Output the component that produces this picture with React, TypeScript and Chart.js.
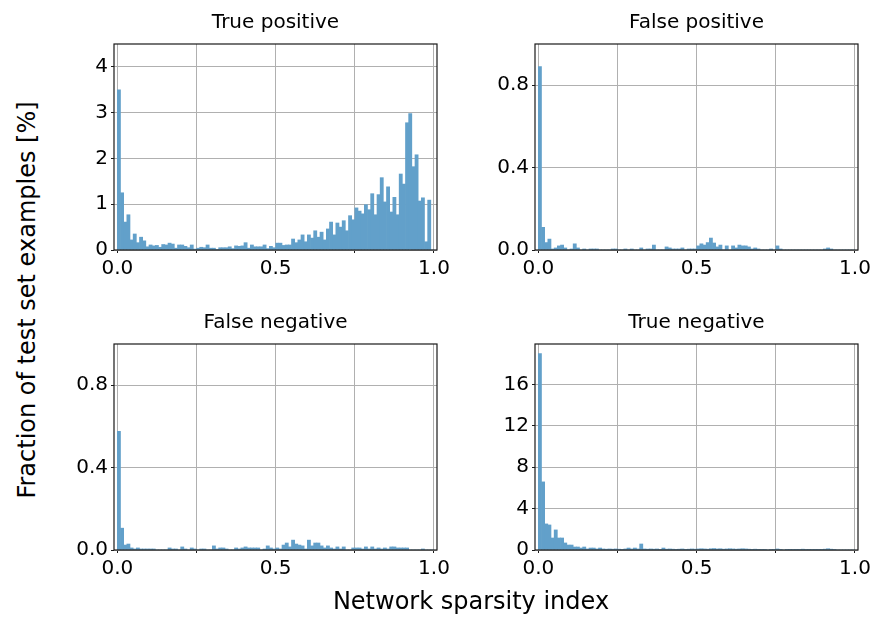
import React, { useEffect, useRef } from 'react';
import { Chart, registerables } from 'chart.js';

Chart.register(...registerables);

// ---- data (histogram, 100 bins of width 0.01 on [0, 1]) ----
const BIN_WIDTH = 0.01;
const X_TICK_LABELS = ['0.0', '0.5', '1.0'];
const PANEL_TITLES = ['True positive', 'False positive', 'False negative', 'True negative'];
const X_AXIS_LABEL = 'Network sparsity index';
const Y_AXIS_LABEL = 'Fraction of test set examples [%]';

const truePositive = [
  3.5, 1.25, 0.61, 0.77, 0.22, 0.35, 0.16, 0.28, 0.2, 0.07,
  0.11, 0.09, 0.1, 0.06, 0.12, 0.11, 0.15, 0.13, 0.04, 0.11,
  0.11, 0.08, 0.05, 0.11, 0.02, 0.04, 0.06, 0.05, 0.11, 0.04,
  0.04, 0.01, 0.05, 0.05, 0.05, 0.07, 0.03, 0.09, 0.08, 0.09,
  0.16, 0.04, 0.11, 0.07, 0.07, 0.07, 0.11, 0.03, 0.08, 0.05,
  0.15, 0.15, 0.1, 0.11, 0.11, 0.24, 0.16, 0.22, 0.33, 0.18,
  0.33, 0.26, 0.42, 0.28, 0.39, 0.22, 0.46, 0.61, 0.33, 0.59,
  0.5, 0.64, 0.42, 0.75, 0.66, 0.92, 0.85, 0.79, 0.99, 0.88,
  1.23, 0.77, 1.21, 1.58, 1.05, 1.38, 0.83, 1.15, 0.77, 1.66,
  1.44, 2.78, 2.98, 1.82, 2.08, 1.07, 1.14, 0.18, 1.09, 0,
];

const falsePositive = [
  0.89, 0.11, 0.036, 0.053, 0.005, 0.01, 0.02, 0.024, 0.01, 0,
  0.005, 0.03, 0.01, 0, 0.005, 0, 0.005, 0.005, 0.005, 0,
  0, 0, 0, 0.005, 0.005, 0, 0, 0.005, 0, 0.005,
  0, 0, 0.01, 0, 0.005, 0.005, 0.024, 0, 0, 0,
  0.015, 0.01, 0.005, 0.005, 0.005, 0.01, 0, 0.005, 0.005, 0.005,
  0.02, 0.03, 0.024, 0.036, 0.058, 0.034, 0.015, 0.024, 0, 0.02,
  0, 0.02, 0.01, 0.024, 0.02, 0.02, 0.015, 0.005, 0.01, 0.005,
  0, 0, 0, 0.005, 0, 0.02, 0.005, 0, 0, 0,
  0, 0, 0, 0, 0, 0, 0, 0, 0, 0,
  0.005, 0.01, 0.005, 0, 0, 0, 0, 0, 0, 0,
];

const falseNegative = [
  0.576, 0.106, 0.024, 0.029, 0.01, 0.005, 0.01, 0.005, 0.005, 0.005,
  0.005, 0.005, 0, 0, 0, 0, 0.01, 0.005, 0.005, 0,
  0.015, 0.005, 0, 0.01, 0.005, 0, 0.005, 0.005, 0, 0,
  0.02, 0.005, 0.01, 0.01, 0.005, 0, 0, 0.01, 0.005, 0.01,
  0.015, 0.01, 0.01, 0.01, 0.01, 0, 0.005, 0.02, 0.01, 0.005,
  0.01, 0.005, 0.024, 0.034, 0.015, 0.048, 0.029, 0.024, 0.02, 0.005,
  0.048, 0.02, 0.034, 0.034, 0.02, 0.01, 0.02, 0.01, 0.005, 0.015,
  0.005, 0.015, 0, 0, 0.01, 0.01, 0.01, 0.005, 0.015, 0.005,
  0.015, 0.005, 0.01, 0.005, 0.01, 0.005, 0.015, 0.015, 0.01, 0.01,
  0.01, 0.01, 0, 0, 0, 0, 0.005, 0, 0, 0,
];

const trueNegative = [
  18.97, 6.58, 2.52, 2.42, 1.16, 1.94, 1.16, 1.16, 0.68, 0.48,
  0.48, 0.29, 0.29, 0.19, 0.29, 0.1, 0.19, 0.19, 0.1, 0.19,
  0.1, 0.08, 0.1, 0.08, 0.1, 0.08, 0.06, 0.1, 0.19, 0.1,
  0.19, 0.1, 0.58, 0.1, 0.08, 0.1, 0.08, 0.1, 0.06, 0.19,
  0.08, 0.1, 0.08, 0.06, 0.08, 0.1, 0.06, 0.08, 0.1, 0.08,
  0.1, 0.12, 0.1, 0.08, 0.12, 0.14, 0.1, 0.12, 0.08, 0.1,
  0.12, 0.1, 0.08, 0.1, 0.12, 0.1, 0.08, 0.06, 0.08, 0.06,
  0.04, 0.04, 0, 0.04, 0.06, 0.1, 0.04, 0, 0.04, 0.06,
  0.04, 0.06, 0.04, 0.08, 0.04, 0.06, 0.04, 0.06, 0.04, 0.06,
  0.08, 0.12, 0.08, 0.04, 0, 0, 0, 0, 0, 0,
];

const yMaxes = [4.5, 1.0, 1.0, 19.9];
const ySteps = [1, 0.4, 0.4, 4];
const yDecimals = [0, 1, 1, 0];

// ---- styling ----
const FONT = "'DejaVu Sans', 'Liberation Sans', sans-serif";
const BAR_COLOR = '#62a0ca';
const GRID_COLOR = '#b0b0b0';
const SPINE_COLOR = '#1a1a1a';
const X_MIN = -0.0105;
const X_MAX = 1.0095;

const framePlugin = {
  id: 'frame',
  afterDatasetsDraw(chart: any) {
    const { ctx, chartArea: a } = chart;
    ctx.save();
    ctx.strokeStyle = SPINE_COLOR;
    ctx.lineWidth = 1.2;
    ctx.strokeRect(a.left, a.top, a.right - a.left, a.bottom - a.top);
    ctx.restore();
  },
};

type PanelProps = {
  idx: number;
  values: number[];
  left: number;
  top: number;
  width: number;
  height: number;
  padRight: number;
};

function Panel({ idx, values, left, top, width, height, padRight }: PanelProps) {
  const ref = useRef<HTMLCanvasElement>(null);
  useEffect(() => {
    const dec = yDecimals[idx];
    const chart = new Chart(ref.current as HTMLCanvasElement, {
      type: 'bar',
      data: {
        datasets: [
          {
            data: values.map((v, i) => ({ x: (i + 0.5) * BIN_WIDTH, y: v })),
            backgroundColor: BAR_COLOR,
            borderWidth: 0,
            barPercentage: 1,
            categoryPercentage: 1,
          } as any,
        ],
      },
      options: {
        responsive: false,
        animation: false,
        layout: { padding: { left: 0, top: 0, right: padRight, bottom: 0 } },
        plugins: {
          legend: { display: false },
          tooltip: { enabled: false },
          title: {
            display: true,
            text: PANEL_TITLES[idx],
            fullSize: false,
            color: '#000',
            font: { family: FONT, size: 20, weight: 'normal' },
            padding: { top: 11, bottom: 9 },
          },
        },
        scales: {
          x: {
            type: 'linear',
            min: X_MIN,
            max: X_MAX,
            offset: false,
            grid: { offset: false, color: GRID_COLOR, tickColor: SPINE_COLOR, tickLength: 3, lineWidth: 1 },
            border: { display: false },
            ticks: {
              stepSize: 0.25,
              includeBounds: false,
              autoSkip: false,
              maxRotation: 0,
              padding: 4,
              color: '#000',
              font: { family: FONT, size: 20 },
              callback: (v: any) => {
                const n = Number(v);
                const lbl = n.toFixed(1);
                return Math.abs(n * 2 - Math.round(n * 2)) < 1e-9 && X_TICK_LABELS.includes(lbl) ? lbl : '';
              },
            },
            afterFit: (s: any) => {
              s.height = 40;
              s.paddingLeft = 0;
              s.paddingRight = 0;
            },
          },
          y: {
            type: 'linear',
            min: 0,
            max: yMaxes[idx],
            grid: { color: GRID_COLOR, tickColor: SPINE_COLOR, tickLength: 3, lineWidth: 1 },
            border: { display: false },
            ticks: {
              stepSize: ySteps[idx],
              includeBounds: false,
              padding: 3,
              color: '#000',
              font: { family: FONT, size: 20 },
              callback: (v: any) => Number(v).toFixed(dec),
            },
            afterFit: (s: any) => {
              s.width = 60;
              s.paddingTop = 0;
              s.paddingBottom = 0;
            },
          },
        },
      } as any,
      plugins: [framePlugin],
    });
    return () => chart.destroy();
  }, []);
  return (
    <canvas
      ref={ref}
      width={width}
      height={height}
      style={{ position: 'absolute', left, top, width, height }}
    />
  );
}

export default function App() {
  return (
    <div
      style={{
        position: 'absolute',
        left: 0,
        top: 0,
        width: 873,
        height: 619,
        overflow: 'hidden',
        background: '#fff',
      }}
    >
      <Panel idx={0} values={truePositive} left={54} top={0} width={403} height={290} padRight={20} />
      <Panel idx={1} values={falsePositive} left={475} top={0} width={398} height={290} padRight={15} />
      <Panel idx={2} values={falseNegative} left={54} top={300} width={403} height={290} padRight={20} />
      <Panel idx={3} values={trueNegative} left={475} top={300} width={398} height={290} padRight={15} />
      <div
        style={{
          position: 'absolute',
          left: 471 - 300,
          top: 586,
          width: 600,
          textAlign: 'center',
          fontFamily: FONT,
          fontSize: 24,
          lineHeight: '30px',
          color: '#000',
          whiteSpace: 'nowrap',
        }}
      >
        {X_AXIS_LABEL}
      </div>
      <div
        style={{
          position: 'absolute',
          left: 26.7 - 300,
          top: 300 - 15,
          width: 600,
          height: 30,
          textAlign: 'center',
          fontFamily: FONT,
          fontSize: 24,
          lineHeight: '30px',
          color: '#000',
          whiteSpace: 'nowrap',
          transform: 'rotate(-90deg)',
        }}
      >
        {Y_AXIS_LABEL}
      </div>
    </div>
  );
}
